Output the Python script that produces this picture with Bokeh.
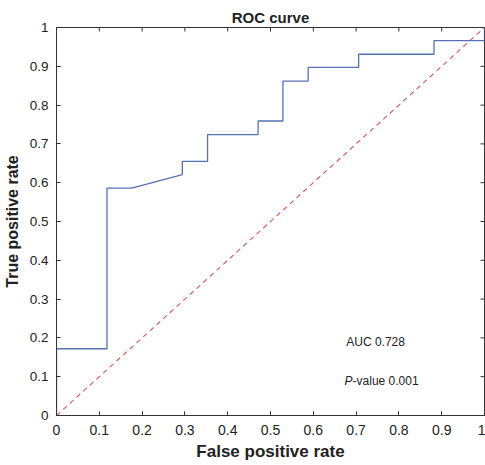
import math
from bokeh.plotting import figure
from bokeh.models import Range1d, FixedTicker, Label
from bokeh.embed import file_html
from bokeh.resources import INLINE

# ROC curve data
fpr = [0.0, 0.0, 0.118, 0.118, 0.176, 0.294, 0.294, 0.353, 0.353, 0.471, 0.471,
       0.529, 0.529, 0.588, 0.588, 0.706, 0.706, 0.882, 0.882, 1.0, 1.0]
tpr = [0.0, 0.172, 0.172, 0.586, 0.586, 0.621, 0.655, 0.655, 0.724, 0.724, 0.759,
       0.759, 0.862, 0.862, 0.897, 0.897, 0.931, 0.931, 0.966, 0.966, 1.0]
ref_x = [0.0, 1.0]
ref_y = [0.0, 1.0]
ticks = [0.0, 0.1, 0.2, 0.3, 0.4, 0.5, 0.6, 0.7, 0.8, 0.9, 1.0]
auc_text = "AUC 0.728"
p_text = "-value 0.001"

FONT = "Liberation Sans"
TXT = "#222222"
AX = "#333333"

p = figure(frame_width=428, frame_height=388, output_backend="svg", toolbar_location=None,
           x_range=Range1d(0, 1), y_range=Range1d(0, 1),
           min_border_left=55, min_border_right=1, min_border_top=27, min_border_bottom=49)

p.title.text = "ROC curve"
p.title.align = "center"
p.title.vertical_align = "top"
p.title.text_font = FONT
p.title.text_font_size = "15px"
p.title.text_font_style = "bold"
p.title.text_color = TXT
p.title.offset = 0
p.title.standoff = 0

p.xgrid.visible = False
p.ygrid.visible = False
p.outline_line_color = AX
p.outline_line_width = 1

labels_over = {0: "0", 1: "1"}
for ax in (p.xaxis[0], p.yaxis[0]):
    ax.ticker = FixedTicker(ticks=ticks)
    ax.major_label_overrides = labels_over
    ax.major_tick_in = 4
    ax.major_tick_out = 0
    ax.minor_tick_in = 0
    ax.minor_tick_out = 0
    ax.axis_line_color = AX
    ax.major_tick_line_color = AX
    ax.major_label_text_font = FONT
    ax.major_label_text_color = TXT
    ax.axis_label_text_font = FONT
    ax.axis_label_text_font_style = "bold"
    ax.axis_label_text_color = TXT

p.xaxis.major_label_text_font_size = "14px"
p.yaxis.major_label_text_font_size = "13.5px"
p.xaxis.axis_label_text_font_size = "17px"
p.yaxis.axis_label_text_font_size = "16px"
p.xaxis.axis_label = "False positive rate"
p.yaxis.axis_label = "True positive rate"
p.xaxis.major_label_standoff = 9
p.xaxis.axis_label_standoff = 4
p.yaxis.major_label_standoff = 8
p.yaxis.axis_label_standoff = 6

# mirrored inward ticks on the top and right edges of the box
n = len(ticks)
p.scatter(ticks, [1.0] * n, marker="dash", size=8, angle=math.pi / 2,
          line_color=AX, line_width=1)
p.scatter([1.0] * n, ticks, marker="dash", size=8, angle=0,
          line_color=AX, line_width=1)

p.line(ref_x, ref_y, line_color="#d2575a", line_width=1.1, line_dash="5 4")
p.line(fpr, tpr, line_color="#5670b2", line_width=1.3)

p.add_layout(Label(x=0.677, y=0.19, text=auc_text, text_font=FONT, text_font_size="12px",
                   text_color=TXT, text_baseline="middle"))
p.add_layout(Label(x=0.673, y=0.09, text="P", text_font=FONT, text_font_size="12px",
                   text_font_style="italic", text_color=TXT, text_baseline="middle"))
p.add_layout(Label(x=0.673, y=0.09, x_offset=8, text=p_text, text_font=FONT,
                   text_font_size="12px", text_color=TXT, text_baseline="middle"))

open("out.html", "w").write(file_html(p, INLINE))
